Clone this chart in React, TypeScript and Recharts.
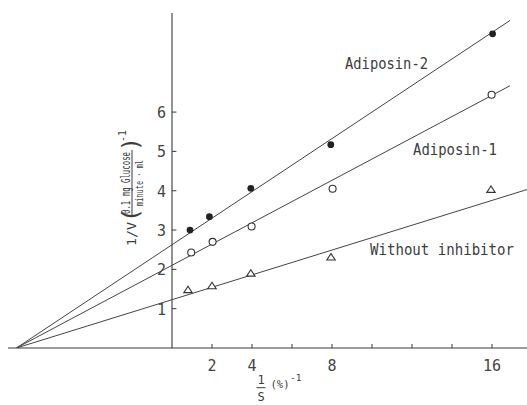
import React from 'react';
import { ComposedChart, Line, Scatter, XAxis, YAxis, ReferenceLine } from 'recharts';

// x = 1/S (%^-1), y = 1/V
const xTicks = [2, 4, 6, 8, 10, 12, 14, 16];
const xTickLabels = [2, 4, 8, 16];
const yTicks = [1, 2, 3, 4, 5, 6];

const adiposin2X = [0.9, 1.87, 3.94, 7.94, 16.03];
const adiposin2Y = [3.0, 3.34, 4.06, 5.17, 7.99];
const adiposin1X = [0.96, 2.03, 3.98, 8.03, 15.98];
const adiposin1Y = [2.43, 2.7, 3.09, 4.05, 6.44];
const noInhibitorX = [0.8, 2.0, 3.94, 7.95, 15.95];
const noInhibitorY = [1.48, 1.58, 1.9, 2.31, 4.03];

// fitted lines (Lineweaver-Burk), common x-intercept
const fitX = [-7.78, 16.9];
const adiposin2Fit = [0, 8.33];
const adiposin1Fit = [0, 6.67];
const noInhibitorFitX = [-7.78, 17.75];
const noInhibitorFit = [0, 4.03];

const X_DOMAIN: [number, number] = [-8.2, 17.75];
const Y_DOMAIN: [number, number] = [0, 8.52];

const zip = (xs: number[], ys: number[]) => xs.map((x, i) => ({ x, y: ys[i] }));

const INK = '#3a3a3a';
const MONO = '"DejaVu Sans Mono", "Liberation Mono", monospace';

const XTick = (props: any) => {
  const { x, y, payload } = props;
  const v = payload.value;
  return (
    <g>
      <line x1={x} x2={x} y1={y - 4} y2={y} stroke={INK} strokeWidth={1} />
      {xTickLabels.includes(v) && (
        <text x={x} y={y + 23} textAnchor="middle" fontFamily={MONO} fontSize={15} fill="#444">
          {v}
        </text>
      )}
    </g>
  );
};

const FilledDot = (p: any) => <circle cx={p.cx} cy={p.cy} r={3.4} fill="#222" />;
const OpenDot = (p: any) => (
  <circle cx={p.cx} cy={p.cy} r={3.5} fill="#fff" stroke="#333" strokeWidth={1.1} />
);
const Tri = (p: any) => (
  <path
    d={`M${p.cx - 4.2},${p.cy + 2.8} L${p.cx + 4.2},${p.cy + 2.8} L${p.cx},${p.cy - 3.6} Z`}
    fill="#fff"
    stroke="#333"
    strokeWidth={1.1}
  />
);

export default function App() {
  return (
    <div style={{ position: 'absolute', left: 0, top: 0, width: 527, height: 405, background: '#fff' }}>
      <ComposedChart width={527} height={405} margin={{ top: 13, right: 0, bottom: 27, left: 8 }}>
        <XAxis
          dataKey="x"
          type="number"
          domain={X_DOMAIN}
          allowDataOverflow
          ticks={xTicks}
          interval={0}
          tickLine={false}
          tickSize={0}
          tickMargin={0}
          height={30}
          axisLine={{ stroke: INK, strokeWidth: 1.2 }}
          tick={<XTick />}
        />
        <YAxis type="number" domain={Y_DOMAIN} allowDataOverflow hide />
        <ReferenceLine
          segment={[{ x: 0, y: 0 }, { x: 0, y: Y_DOMAIN[1] }]}
          stroke={INK}
          strokeWidth={1.1}
          ifOverflow="visible"
        />
        {yTicks.map((t) => (
          <ReferenceLine
            key={t}
            segment={[{ x: 0, y: t }, { x: 0.22, y: t }]}
            stroke={INK}
            strokeWidth={1}
            ifOverflow="visible"
            label={(lp: any) => {
              const vb = lp.viewBox || {};
              return (
                <text
                  x={vb.x - 6}
                  y={vb.y + 6}
                  textAnchor="end"
                  fontFamily={MONO}
                  fontSize={15}
                  fill="#444"
                >
                  {t}
                </text>
              );
            }}
          />
        ))}
        <Line data={zip(fitX, adiposin2Fit)} dataKey="y" type="linear" stroke="#444" strokeWidth={1} dot={false} isAnimationActive={false} />
        <Line data={zip(fitX, adiposin1Fit)} dataKey="y" type="linear" stroke="#444" strokeWidth={1} dot={false} isAnimationActive={false} />
        <Line data={zip(noInhibitorFitX, noInhibitorFit)} dataKey="y" type="linear" stroke="#444" strokeWidth={1} dot={false} isAnimationActive={false} />
        <Scatter data={zip(adiposin2X, adiposin2Y)} dataKey="y" shape={<FilledDot />} isAnimationActive={false} />
        <Scatter data={zip(adiposin1X, adiposin1Y)} dataKey="y" shape={<OpenDot />} isAnimationActive={false} />
        <Scatter data={zip(noInhibitorX, noInhibitorY)} dataKey="y" shape={<Tri />} isAnimationActive={false} />
      </ComposedChart>
      <svg
        width={527}
        height={405}
        style={{ position: 'absolute', left: 0, top: 0, pointerEvents: 'none' }}
      >
        <g fontFamily={MONO} fill="#3c3c3c">
          <text x={345} y={69} fontSize={15} textLength={83} lengthAdjust="spacingAndGlyphs">Adiposin-2</text>
          <text x={413} y={155} fontSize={15} textLength={84} lengthAdjust="spacingAndGlyphs">Adiposin-1</text>
          <text x={370} y={255} fontSize={15} textLength={144} lengthAdjust="spacingAndGlyphs">Without inhibitor</text>

          {/* x-axis title: 1/S (%)^-1 */}
          <text x={261} y={384} fontSize={12} textAnchor="middle">1</text>
          <line x1={256.5} x2={265.5} y1={387.7} y2={387.7} stroke="#3c3c3c" strokeWidth={1} />
          <text x={261} y={401} fontSize={12} textAnchor="middle">S</text>
          <text x={270.5} y={387.5} fontSize={10.5}>(%)</text>
          <text x={290} y={381} fontSize={9.5}>-1</text>

          {/* y-axis title, rotated */}
          <g transform="translate(132,0) rotate(-90)">
            <text x={-246} y={4} fontSize={13} textLength={24} lengthAdjust="spacingAndGlyphs">1/V</text>
            <text x={-222} y={7} fontSize={23}>(</text>
            <text x={-214} y={-2.5} fontSize={11.5} textLength={62} lengthAdjust="spacingAndGlyphs">0.1 mg Glucose</text>
            <line x1={-216} x2={-150} y1={0} y2={0} stroke="#3c3c3c" strokeWidth={1} />
            <text x={-206} y={10.5} fontSize={11} textLength={46} lengthAdjust="spacingAndGlyphs">minute · ml</text>
            <text x={-151} y={7} fontSize={23}>)</text>
            <text x={-142} y={-6} fontSize={10}>-1</text>
          </g>
        </g>
      </svg>
    </div>
  );
}
